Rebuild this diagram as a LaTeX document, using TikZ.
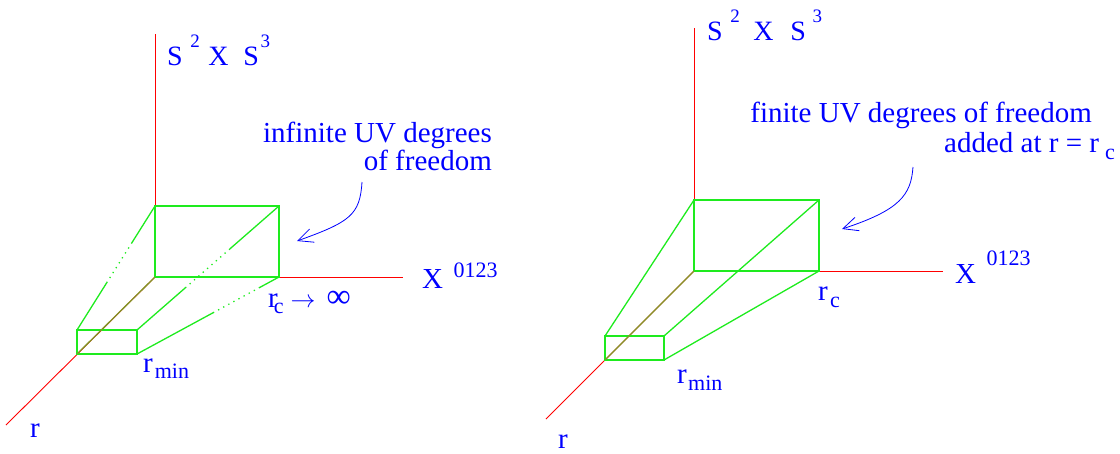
\documentclass[tikz,border=0pt]{standalone}
\usepackage{fontspec}
\setmainfont{Liberation Serif}
\newfontfamily\tmsfont{Liberation Serif}
\usetikzlibrary{arrows.meta,calc}
\definecolor{axred}{RGB}{255,0,0}
\definecolor{boxgreen}{RGB}{30,235,30}
\definecolor{mixgreen}{RGB}{130,150,40}
\definecolor{txtblue}{RGB}{0,0,255}
\newcommand{\fsz}[1]{\fontsize{#1}{#1}\selectfont}
\begin{document}
\begin{tikzpicture}[x=1pt,y=-1pt,
  axis/.style={draw=axred, line width=0.9pt},
  edge/.style={draw=boxgreen, line width=1.3pt},
  dotedge/.style={draw=boxgreen, line width=1.3pt, dash pattern=on 1.3pt off 4.5pt},
  raxisedge/.style={draw=mixgreen, line width=1.3pt},
  note/.style={draw=txtblue, line width=0.8pt, -{Straight Barb[length=15pt,width=14pt,line width=0.8pt]}},
  lbl/.style={text=txtblue, inner sep=0pt, font=\tmsfont\fsz{29}},
  ]
\useasboundingbox (0,0) rectangle (1120,453);

% ---------------- left panel ----------------
\coordinate (LO) at (155,277);
\coordinate (LZ) at (155,34);
\coordinate (LX) at (403,277);
\coordinate (LR) at (6,425);
\coordinate (LBtl) at (155,206);
\coordinate (LBtr) at (279,206);
\coordinate (LBbr) at (279,277);
\coordinate (LStl) at (77,330);
\coordinate (LStr) at (137,330);
\coordinate (LSbr) at (137,354);
\coordinate (LSbl) at (77,354);

\draw[axis] (LO) -- (LZ);
\draw[axis] (LO) -- (LX);
\draw[axis] (LO) -- (LR);

\draw[edge] (LBtl) -- (LBtr) -- (LBbr) -- (LO) -- cycle;
\draw[edge] (LStl) -- (LStr) -- (LSbr) -- (LSbl) -- cycle;
\draw[raxisedge] (LSbl) -- (LO);

\draw[edge] (LStl) -- ($(LStl)!0.38!(LBtl)$);
\draw[dotedge] ($(LStl)!0.38!(LBtl)$) -- ($(LStl)!0.70!(LBtl)$);
\draw[edge] ($(LStl)!0.70!(LBtl)$) -- (LBtl);

\draw[edge] (LStr) -- ($(LStr)!0.34!(LBtr)$);
\draw[dotedge] ($(LStr)!0.34!(LBtr)$) -- ($(LStr)!0.655!(LBtr)$);
\draw[edge] ($(LStr)!0.655!(LBtr)$) -- (LBtr);

\draw[edge] (LSbr) -- ($(LSbr)!0.535!(LBbr)$);
\draw[dotedge] ($(LSbr)!0.535!(LBbr)$) -- ($(LSbr)!0.86!(LBbr)$);
\draw[edge] ($(LSbr)!0.86!(LBbr)$) -- (LBbr);

\node[lbl, anchor=base west] (ls) at (167,65) {\fsz{28}S\hspace{7.5pt}\raisebox{18pt}{\fsz{19}2}\hspace{8.5pt}X\hspace{15pt}S\hspace{1.5pt}\raisebox{18pt}{\fsz{19}3}};
\node[lbl, anchor=base west] (lx) at (422,288) {X\hspace{10.5pt}\raisebox{11pt}{\fsz{22}0123}};
\node[lbl, anchor=base west] (lr) at (30,437) {r};
\node[lbl, anchor=base west] (lrmin) at (143,372) {r\hspace{2pt}\raisebox{-6pt}{\fsz{22}min}};
\node[lbl, anchor=base west] (lrc) at (268,307) {r\hspace{-4pt}\raisebox{-6pt}{\fsz{22}c}\hspace{7pt}{\fsz{25}$\rightarrow$}\hspace{11pt}{\fsz{34}∞}};
\node[lbl, anchor=base east] (lt1) at (492,142) {infinite UV degrees};
\node[lbl, anchor=base east] (lt2) at (492,170) {of freedom};

\coordinate (la0) at (362,182);
\coordinate (la1) at (297,241);
\draw[note] (la0) .. controls (360,215) and (350,222) .. (la1);

% ---------------- right panel ----------------
\coordinate (RO) at (694,271);
\coordinate (RZ) at (694,28);
\coordinate (RX) at (943,271);
\coordinate (RR) at (546,419);
\coordinate (RBtl) at (694,200);
\coordinate (RBtr) at (819,200);
\coordinate (RBbr) at (819,271);
\coordinate (RStl) at (605,336);
\coordinate (RStr) at (664,336);
\coordinate (RSbr) at (664,360);
\coordinate (RSbl) at (605,360);

\draw[axis] (RO) -- (RZ);
\draw[axis] (RO) -- (RX);
\draw[axis] (RO) -- (RR);

\draw[edge] (RBtl) -- (RBtr) -- (RBbr) -- (RO) -- cycle;
\draw[edge] (RStl) -- (RStr) -- (RSbr) -- (RSbl) -- cycle;
\draw[raxisedge] (RSbl) -- (RO);
\draw[edge] (RStl) -- (RBtl);
\draw[edge] (RStr) -- (RBtr);
\draw[edge] (RSbr) -- (RBbr);

\node[lbl, anchor=base west] (rs) at (707,40) {\fsz{28}S\hspace{7.5pt}\raisebox{18pt}{\fsz{19}2}\hspace{13.5pt}X\hspace{17pt}S\hspace{6.5pt}\raisebox{18pt}{\fsz{19}3}};
\node[lbl, anchor=base west] (rx) at (955,283) {X\hspace{10.5pt}\raisebox{18pt}{\fsz{22}0123}};
\node[lbl, anchor=base west] (rr) at (558,448) {r};
\node[lbl, anchor=base west] (rrmin) at (677,383) {r\hspace{1.3pt}\raisebox{-7pt}{\fsz{22}min}};
\node[lbl, anchor=base west] (rrc) at (818,300) {r\hspace{2.3pt}\raisebox{-7pt}{\fsz{22}c}};
\node[lbl, anchor=base east] (rt1) at (1092,122) {finite UV degrees of freedom};
\node[lbl, anchor=base east] (rt2) at (1115,152) {added at r = r\hspace{6pt}\raisebox{-7pt}{\fsz{22}c}};

\coordinate (ra0) at (913,167);
\coordinate (ra1) at (842,229);
\draw[note] (ra0) .. controls (911,195) and (900,210) .. (ra1);
\end{tikzpicture}
\end{document}
